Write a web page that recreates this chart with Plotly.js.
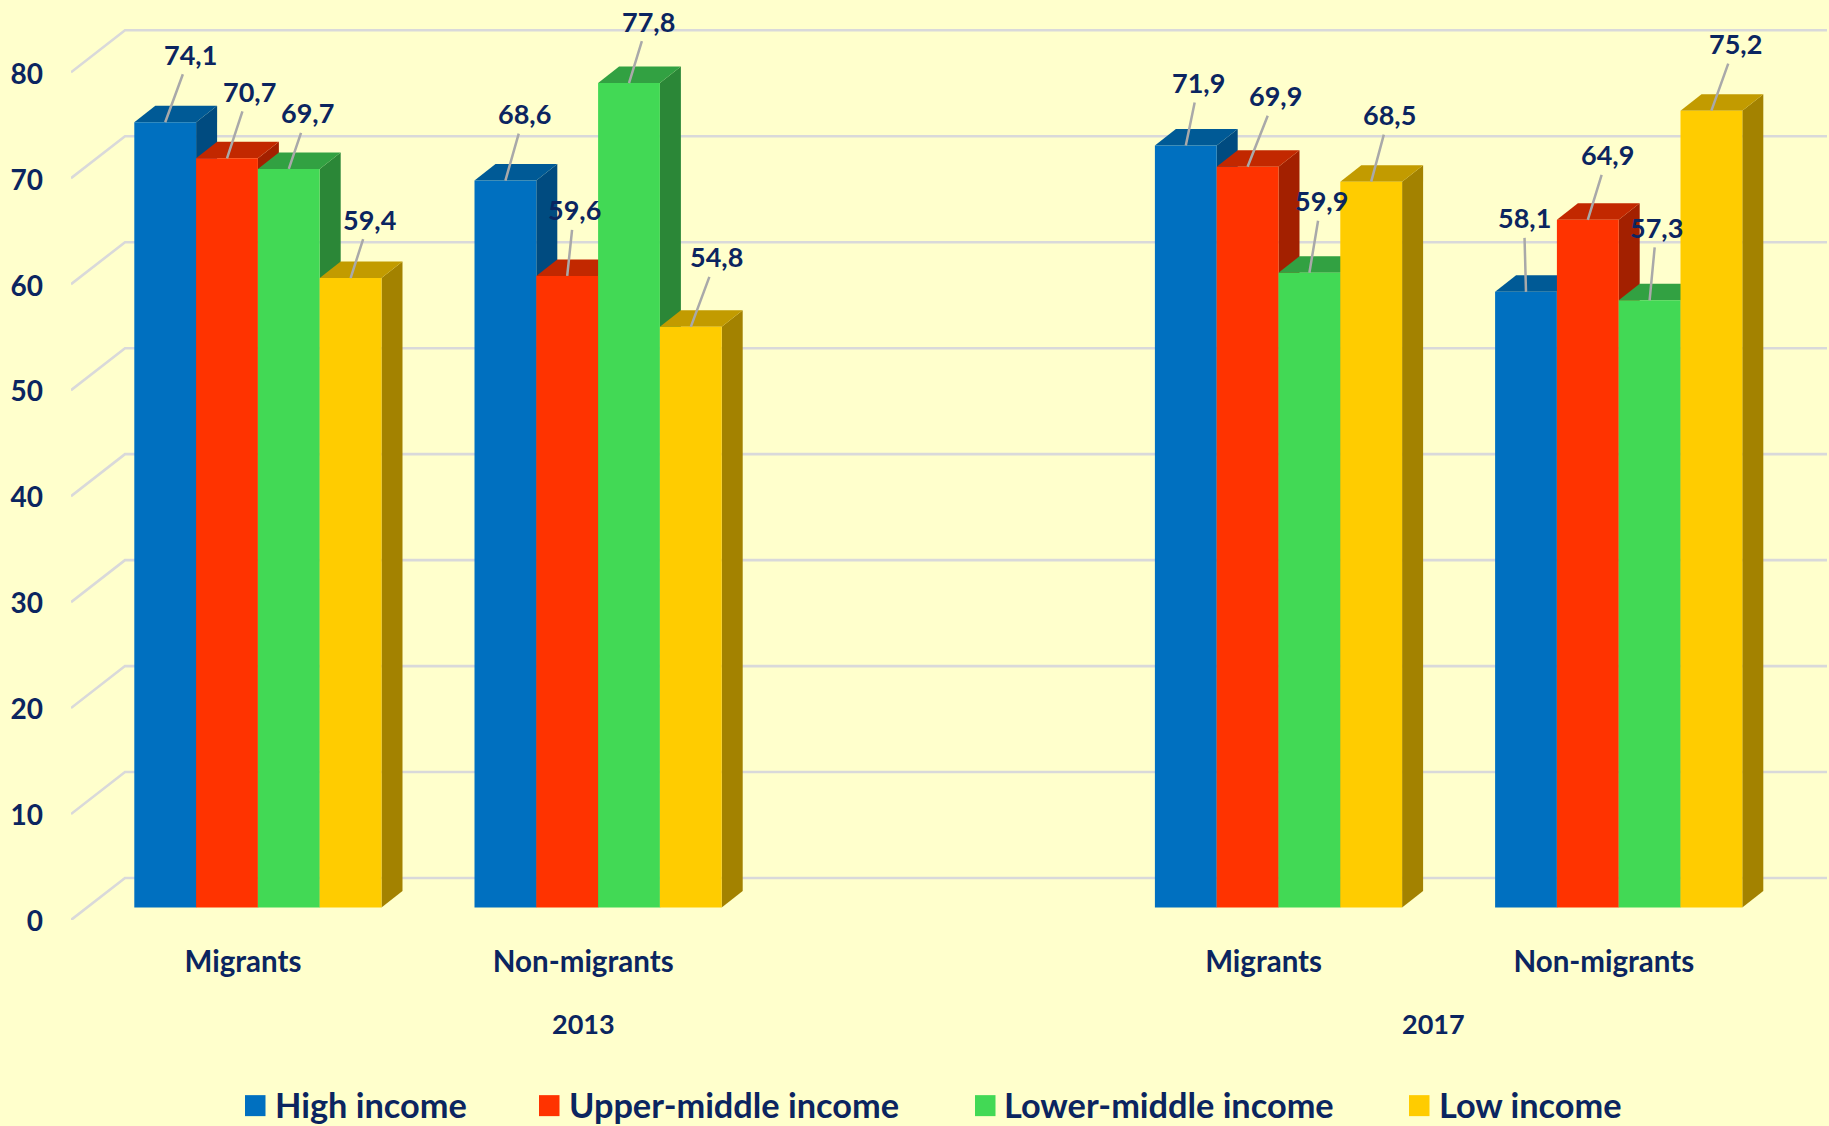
<!DOCTYPE html>
<html>
<head>
<meta charset="utf-8">
<script src="https://cdn.plot.ly/plotly-3.0.1.min.js"></script>
<style>html,body{margin:0;padding:0;background:#FFFFCC;}</style>
</head>
<body>
<div id="chart" style="width:1829px;height:1126px;"></div>
<script>
// Employment rates by income group, migrants and non-migrants, 2013 and 2017
const groupLabels = ["Migrants", "Non-migrants", "Migrants", "Non-migrants"];
const groupPositions = [0, 1, 3, 4];
const yearLabels = ["2013", "2017"];
const yearPositions = [1, 3.5];
const yTicks = [0, 10, 20, 30, 40, 50, 60, 70, 80];

const seriesNames = ["High income", "Upper-middle income", "Lower-middle income", "Low income"];
const highIncome = [74.1, 68.6, 71.9, 58.1];
const upperMiddleIncome = [70.7, 59.6, 69.9, 64.9];
const lowerMiddleIncome = [69.7, 77.8, 59.9, 57.3];
const lowIncome = [59.4, 54.8, 68.5, 75.2];
const seriesValues = [highIncome, upperMiddleIncome, lowerMiddleIncome, lowIncome];

// Face colours of each box: front, top, side
const frontColors = ["#0070C0", "#FF3300", "#42D955", "#FFCC00"];
const topColors = ["#005A96", "#C22800", "#32A142", "#C29B00"];
const sideColors = ["#004B80", "#A32000", "#2B8737", "#A38200"];

// Pixel offsets of each value label from the top of its bar, per series and group
const labelOffsets = [
  [[25, -68], [19, -67], [13, -63], [-2, -74]],
  [[22, -67], [7, -66], [28, -71], [20, -65]],
  [[19, -56], [19, -62], [12, -72], [7, -73]],
  [[19, -59], [26, -70], [18, -67], [24, -67]]
];

// Plot frame in page pixels
const pageW = 1829, pageH = 1126;
const frameL = 71, frameR = 1827, frameT = 10, frameB = 920.3;
const pxPerX = 340.2, pxPerY = 10.6;
const xStart = -(243 - frameL) / pxPerX;
const xEnd = xStart + (frameR - frameL) / pxPerX;
const yStart = -(frameB - 907.8) / pxPerY;
const yEnd = yStart + (frameB - frameT) / pxPerY;

// Bar layout and oblique projection, in axis units
const barWidth = 61.8 / pxPerX;
const groupOffset = (134.3 - 243) / pxPerX;
const depthX = 21 / pxPerX, depthY = 16.5 / pxPerY;
const wallX = 54 / pxPerX;
const wallRise = 42 / pxPerY;

const navy = "#0B2560";
const font = (size) => ({family: "Lato, Carlito, sans-serif", size: size, color: navy, weight: 700});

// Front faces are real bars; they sit above the depth faces drawn as shapes below
const traces = seriesNames.map((name, s) => ({
  type: "bar",
  name: name,
  x: groupPositions,
  y: seriesValues[s],
  width: barWidth,
  offset: groupOffset + s * barWidth,
  marker: {color: frontColors[s], line: {width: 0}},
  showlegend: false,
  hoverinfo: "name+y"
}));

const shapes = [];

// Walls: a diagonal running back from each tick, then a line along the back wall
yTicks.forEach((v) => {
  const tipY = v + yStart;
  const backY = tipY + wallRise;
  shapes.push({
    type: "path", layer: "below", xref: "x", yref: "y",
    path: `M ${xStart} ${tipY} L ${xStart + wallX} ${backY} L ${xEnd} ${backY}`,
    line: {color: "#D9D9DA", width: 2.6}
  });
});

// Sides and tops, painted left to right so nearer boxes cover earlier ones
groupPositions.forEach((gx, g) => {
  seriesValues.forEach((values, s) => {
    const v = values[g];
    const x0 = gx + groupOffset + s * barWidth;
    const x1 = x0 + barWidth;
    shapes.push({
      type: "path", layer: "below", xref: "x", yref: "y",
      path: `M ${x1} 0 L ${x1 + depthX} ${depthY} L ${x1 + depthX} ${v + depthY} L ${x1} ${v} Z`,
      fillcolor: sideColors[s], line: {width: 0}
    });
    shapes.push({
      type: "path", layer: "below", xref: "x", yref: "y",
      path: `M ${x0} ${v} L ${x0 + depthX} ${v + depthY} L ${x1 + depthX} ${v + depthY} L ${x1} ${v} Z`,
      fillcolor: topColors[s], line: {width: 0}
    });
  });
});

const annotations = [];

// Value labels with leader lines down to the front top edge of each bar
seriesValues.forEach((values, s) => {
  values.forEach((v, g) => {
    annotations.push({
      x: groupPositions[g] + groupOffset + (s + 0.5) * barWidth,
      y: v,
      xref: "x", yref: "y",
      text: v.toFixed(1).replace(".", ","),
      font: font(27),
      showarrow: true, arrowhead: 0, arrowwidth: 2.5, arrowcolor: "#A9A9A9",
      ax: labelOffsets[s][g][0], ay: labelOffsets[s][g][1],
      axref: "pixel", ayref: "pixel",
      borderpad: 3, standoff: 0
    });
  });
});

// Year labels under the group labels
const paperX = (px) => (px - frameL) / (frameR - frameL);
const paperY = (py) => (frameB - py) / (frameB - frameT);
yearLabels.forEach((year, i) => {
  annotations.push({
    x: yearPositions[i], y: paperY(1024), xref: "x", yref: "paper",
    text: year, font: font(27), showarrow: false,
    xanchor: "center", yanchor: "middle"
  });
});

// Legend row along the bottom
const legendSwatchX = [245, 539, 975, 1409];
const legendTextX = [272.5, 566.5, 1001.5, 1436.5];
seriesNames.forEach((name, s) => {
  shapes.push({
    type: "rect", xref: "paper", yref: "paper",
    x0: paperX(legendSwatchX[s]), x1: paperX(legendSwatchX[s] + 20.5),
    y0: paperY(1116.5), y1: paperY(1095.5),
    fillcolor: frontColors[s], line: {width: 0}
  });
  annotations.push({
    x: paperX(legendTextX[s]), y: paperY(1105), xref: "paper", yref: "paper",
    text: name, font: font(34.3), showarrow: false,
    xanchor: "left", yanchor: "middle"
  });
});

const layout = {
  width: pageW, height: pageH,
  margin: {l: frameL, r: pageW - frameR, t: frameT, b: pageH - frameB, pad: 0},
  paper_bgcolor: "#FFFFCC",
  plot_bgcolor: "rgba(0,0,0,0)",
  barmode: "overlay",
  showlegend: false,
  xaxis: {
    range: [xStart, xEnd], tickmode: "array",
    tickvals: groupPositions, ticktext: groupLabels,
    showgrid: false, zeroline: false, showline: false, ticks: "",
    tickfont: font(29.5), ticklabelstandoff: 21, tickangle: 0
  },
  yaxis: {
    range: [yStart, yEnd], tickmode: "array",
    tickvals: yTicks, ticktext: yTicks.map(String),
    showgrid: false, zeroline: false, showline: false, ticks: "",
    tickfont: font(28), ticklabelstandoff: 27, ticklabelshift: 14
  },
  shapes: shapes,
  annotations: annotations
};

Plotly.newPlot("chart", traces, layout, {displayModeBar: false, staticPlot: true});
</script>
</body>
</html>
